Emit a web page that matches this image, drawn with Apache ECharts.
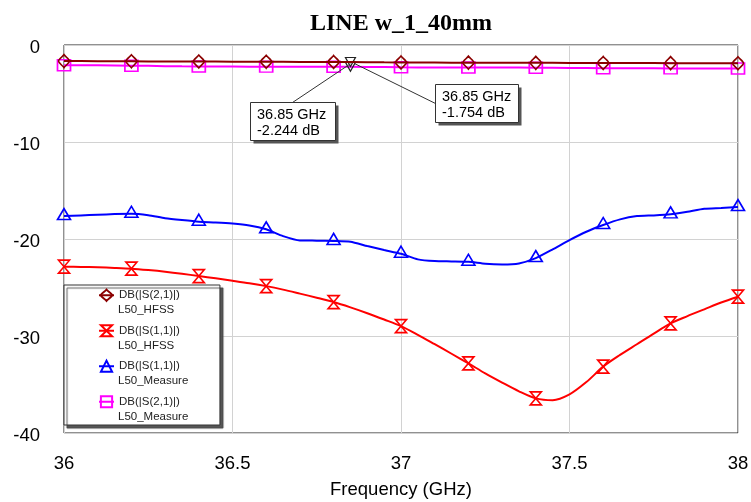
<!DOCTYPE html>
<html>
<head>
<meta charset="utf-8">
<script src="https://cdn.jsdelivr.net/npm/echarts@6/dist/echarts.min.js"></script>
<style>
  html, body { margin: 0; padding: 0; background: #fff; }
  #chart { width: 751px; height: 502px; }
</style>
</head>
<body>
<div id="chart"></div>
<script>
// Frequency sweep (GHz)
const freqGHz = [
  36.00, 36.05, 36.10, 36.15, 36.20, 36.25, 36.30, 36.35, 36.40, 36.45,
  36.50, 36.55, 36.60, 36.65, 36.70, 36.75, 36.80, 36.85, 36.90, 36.95,
  37.00, 37.05, 37.10, 37.15, 37.20, 37.25, 37.30, 37.35, 37.40, 37.45,
  37.50, 37.55, 37.60, 37.65, 37.70, 37.75, 37.80, 37.85, 37.90, 37.95,
  38.00
];

// DB(|S(2,1)|) L50_HFSS
const s21Hfss = [
  -1.66, -1.66, -1.67, -1.67, -1.68, -1.69, -1.69, -1.70, -1.70, -1.71,
  -1.72, -1.72, -1.73, -1.73, -1.74, -1.74, -1.75, -1.754, -1.77, -1.79,
  -1.80, -1.81, -1.81, -1.82, -1.82, -1.83, -1.83, -1.83, -1.84, -1.84,
  -1.85, -1.85, -1.85, -1.86, -1.86, -1.86, -1.87, -1.87, -1.87, -1.88,
  -1.88
];

// DB(|S(1,1)|) L50_HFSS
const s11Hfss = [
  -22.86, -22.88, -22.92, -22.98, -23.06, -23.20, -23.37, -23.58, -23.82, -24.05,
  -24.30, -24.56, -24.86, -25.22, -25.63, -26.05, -26.50, -27.05, -27.65, -28.30,
  -28.98, -29.88, -30.85, -31.83, -32.82, -33.85, -34.80, -35.70, -36.43, -36.62,
  -36.02, -34.75, -33.16, -31.95, -30.85, -29.75, -28.70, -27.95, -27.25, -26.55,
  -25.95
];

// DB(|S(1,1)|) L50_Measure
const s11Measure = [
  -17.64, -17.57, -17.50, -17.43, -17.40, -17.55, -17.85, -18.05, -18.22, -18.29,
  -18.40, -18.60, -19.00, -19.70, -20.15, -20.17, -20.20, -20.28, -20.73, -21.14,
  -21.52, -22.10, -22.28, -22.31, -22.35, -22.55, -22.62, -22.52, -21.97, -21.07,
  -20.11, -19.25, -18.56, -17.98, -17.64, -17.57, -17.46, -17.19, -16.88, -16.81,
  -16.71
];

// DB(|S(2,1)|) L50_Measure
const s21Measure = [
  -2.08, -2.09, -2.10, -2.11, -2.13, -2.15, -2.18, -2.20, -2.21, -2.22,
  -2.22, -2.23, -2.23, -2.23, -2.24, -2.24, -2.24, -2.244, -2.26, -2.28,
  -2.30, -2.31, -2.31, -2.32, -2.32, -2.32, -2.33, -2.33, -2.34, -2.35,
  -2.37, -2.38, -2.39, -2.39, -2.40, -2.40, -2.41, -2.41, -2.42, -2.42,
  -2.42
];

// Axis ticks
const freqTicks = [36, 36.5, 37, 37.5, 38];
const dbTicks = [-40, -30, -20, -10, 0];

// Readout marker
const markerFreq = 36.85;
const markerS21Hfss = -1.754;
const markerS21Measure = -2.244;

// Trace names: quantity and source
const traceQuantity = ['DB(|S(2,1)|)', 'DB(|S(1,1)|)', 'DB(|S(1,1)|)', 'DB(|S(2,1)|)'];
const traceSource = ['L50_HFSS', 'L50_HFSS', 'L50_Measure', 'L50_Measure'];

const FONT = '"Liberation Sans", Arial, Helvetica, sans-serif';
const MARKER_STEP = 4; // one symbol every 0.2 GHz

const SYM_DIAMOND = 'path://M5,0 C6.5,2.5 10,5 10,7 C10,9 6.5,11.5 5,14 C3.5,11.5 0,9 0,7 C0,5 3.5,2.5 5,0 Z';
const SYM_HOURGLASS = 'path://M0,0 L10,0 L0,14 L10,14 Z';
const SYM_DOWN_TRI = 'path://M0,0 L10,0 L5,9 Z';

const names = traceQuantity.map(function (q, i) { return q + '\n' + traceSource[i]; });

function withMarkers(values) {
  return values.map(function (v, i) {
    const item = { value: [freqGHz[i], v] };
    if (i % MARKER_STEP !== 0) item.symbol = 'none';
    return item;
  });
}

function lineSeries(name, values, color, symbol, size, extra) {
  return Object.assign({
    name: name,
    type: 'line',
    data: withMarkers(values),
    color: color,
    showAllSymbol: true,
    symbol: symbol,
    symbolSize: size,
    lineStyle: { color: color, width: 2 },
    itemStyle: { color: 'rgba(255,255,255,0)', borderColor: color, borderWidth: 1.6 },
    emphasis: { disabled: true },
    animation: false
  }, extra || {});
}

function readout(value) {
  return {
    symbol: SYM_DOWN_TRI,
    symbolSize: [10, 9],
    silent: true,
    itemStyle: { color: 'rgba(255,255,255,0)', borderColor: '#222', borderWidth: 1.2 },
    label: { show: false },
    data: [{ coord: [markerFreq, value] }]
  };
}

const LEGEND_LEFT = 64, LEGEND_TOP = 285, LEGEND_ROW = 35, LEGEND_LINE = 14.7;
const legendText = { fontFamily: FONT, fontSize: 11.5, color: '#222', lineHeight: 14.5 };

const chart = echarts.init(document.getElementById('chart'), null, { renderer: 'canvas' });

chart.setOption({
  animation: false,
  backgroundColor: '#fff',
  title: {
    text: 'LINE w_1_40mm',
    left: 401,
    top: 12,
    padding: 0,
    textAlign: 'center',
    textStyle: { fontFamily: '"Liberation Serif", "Times New Roman", serif', fontWeight: 'bold', fontSize: 24, color: '#000' }
  },
  grid: {
    left: 64, right: 13, top: 45, bottom: 69,
    containLabel: false, outerBoundsMode: 'none',
    show: true, borderColor: '#222', borderWidth: 1
  },
  legend: [
    {
      // symbols + first text line, with the framed box
      orient: 'vertical',
      left: LEGEND_LEFT, top: LEGEND_TOP,
      padding: [3, 40, 16, 34],
      itemWidth: 15, itemHeight: 14, itemGap: LEGEND_ROW - 14,
      selectedMode: false,
      backgroundColor: '#fff',
      borderColor: '#333', borderWidth: 1,
      shadowColor: 'rgba(70,70,70,0.9)', shadowBlur: 1, shadowOffsetX: 3, shadowOffsetY: 3,
      textStyle: legendText,
      formatter: function (name) { return traceQuantity[names.indexOf(name)]; },
      data: names
    },
    {
      // second text line of each entry
      orient: 'vertical',
      left: LEGEND_LEFT, top: LEGEND_TOP + LEGEND_LINE,
      padding: [3, 40, 2, 34],
      itemWidth: 15, itemHeight: 14, itemGap: LEGEND_ROW - 14,
      selectedMode: false,
      icon: 'rect',
      itemStyle: { color: 'rgba(0,0,0,0)', borderWidth: 0, opacity: 0 },
      textStyle: legendText,
      formatter: function (name) { return traceSource[names.indexOf(name)]; },
      data: names
    }
  ],
  xAxis: {
    type: 'value',
    min: freqTicks[0], max: freqTicks[freqTicks.length - 1], interval: freqTicks[1] - freqTicks[0],
    axisLine: { show: false }, axisTick: { show: false },
    splitLine: { show: true, lineStyle: { color: '#d2d2d2', width: 1 } },
    axisLabel: { color: '#000', fontFamily: FONT, fontSize: 18.5, margin: 21 },
    name: 'Frequency (GHz)', nameLocation: 'middle', nameGap: 47,
    nameTextStyle: { color: '#000', fontFamily: FONT, fontSize: 18.5 }
  },
  yAxis: {
    type: 'value',
    min: dbTicks[0], max: dbTicks[dbTicks.length - 1], interval: dbTicks[1] - dbTicks[0],
    axisLine: { show: false }, axisTick: { show: false },
    splitLine: { show: true, lineStyle: { color: '#d2d2d2', width: 1 } },
    axisLabel: { color: '#000', fontFamily: FONT, fontSize: 18.5, margin: 24, verticalAlign: 'top', lineHeight: 6 }
  },
  series: [
    lineSeries(names[0], s21Hfss, '#8B0000', SYM_DIAMOND, [11, 13], { z: 5, markPoint: readout(markerS21Hfss) }),
    lineSeries(names[1], s11Hfss, '#FF0000', SYM_HOURGLASS, [11, 13], { z: 3, smooth: 0.3 }),
    lineSeries(names[2], s11Measure, '#0000FF', 'triangle', [13, 11], { z: 3, smooth: 0.2, symbolOffset: [0, -2] }),
    lineSeries(names[3], s21Measure, '#FF00FF', 'rect', [13, 11], { z: 4, markPoint: readout(markerS21Measure) })
  ]
});

// Readout callouts anchored at the marker positions
function callout(anchor, dx, dy, w, h, text, from, toOnBox) {
  const bx = Math.round(anchor[0] + dx) + 0.5;
  const by = Math.round(anchor[1] + dy) + 0.5;
  return [
    {
      type: 'line', z: 100, silent: true,
      shape: { x1: anchor[0] + from[0], y1: anchor[1] + from[1], x2: bx + toOnBox[0], y2: by + toOnBox[1] },
      style: { stroke: '#333', lineWidth: 1 }
    },
    {
      type: 'rect', z: 101, silent: true,
      shape: { x: bx + 3, y: by + 3, width: w, height: h },
      style: { fill: '#555', stroke: null }
    },
    {
      type: 'rect', z: 102, silent: true,
      shape: { x: bx, y: by, width: w, height: h },
      style: { fill: '#fff', stroke: '#333', lineWidth: 1 }
    },
    {
      type: 'text', z: 103, silent: true,
      x: bx + 6.5, y: by + 4,
      style: { text: text, fill: '#000', font: '14.5px ' + FONT, lineHeight: 16.5, verticalAlign: 'top' }
    }
  ];
}

const pHfss = chart.convertToPixel({ gridIndex: 0 }, [markerFreq, markerS21Hfss]);
const pMeas = chart.convertToPixel({ gridIndex: 0 }, [markerFreq, markerS21Measure]);

const fmt = function (f, v) { return f.toFixed(2) + ' GHz\n' + v.toFixed(3) + ' dB'; };

chart.setOption({
  graphic: [].concat(
    callout(pHfss, 85, 22, 83, 38, fmt(markerFreq, markerS21Hfss), [4, 1.5], [0, 19]),
    callout(pMeas, -100, 35.5, 85, 38, fmt(markerFreq, markerS21Measure), [0, -3], [42, 0])
  )
});
</script>
</body>
</html>
